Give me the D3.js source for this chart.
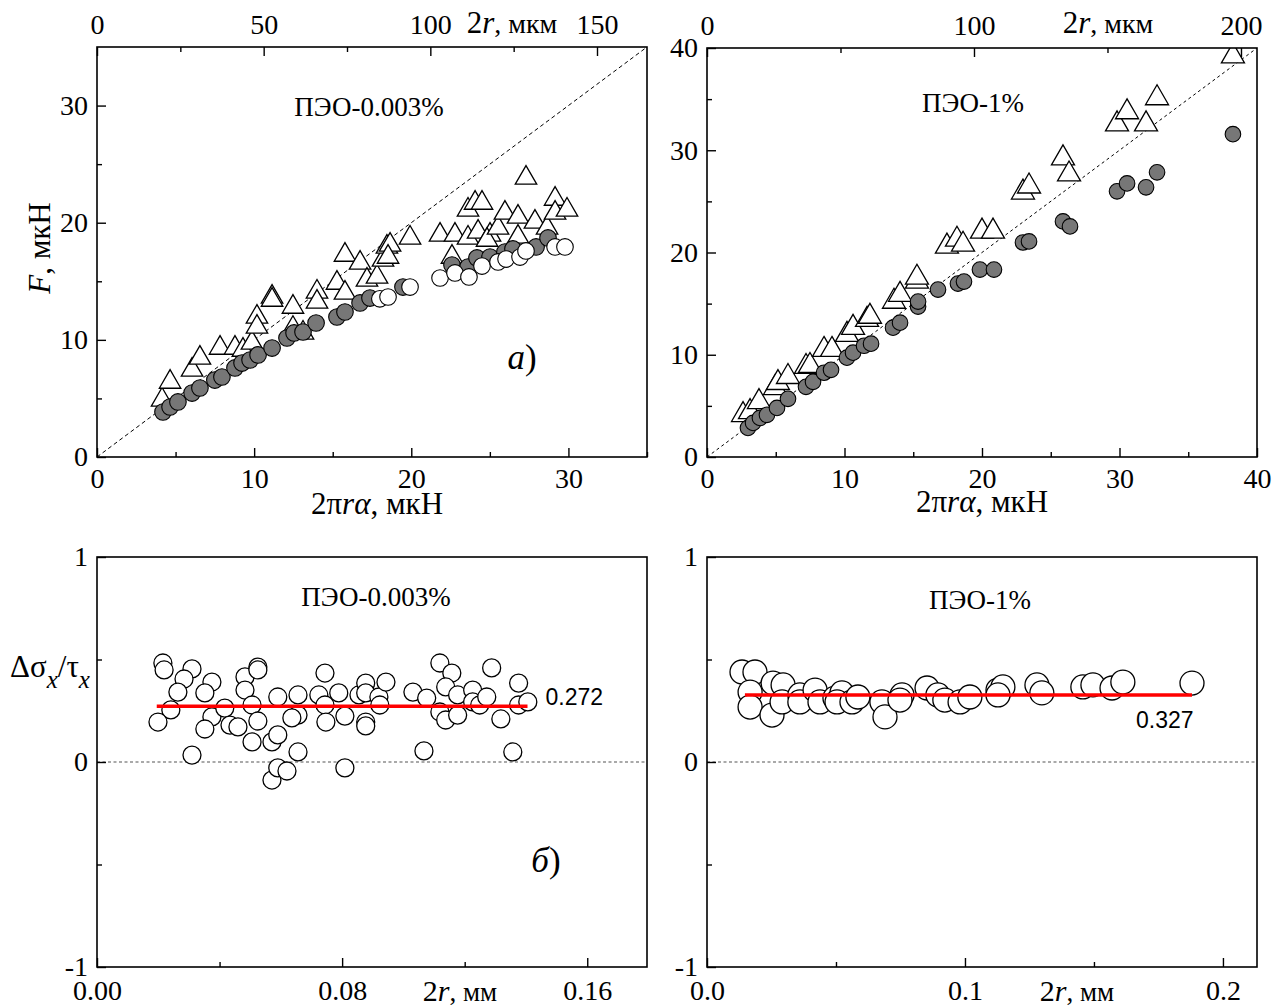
<!DOCTYPE html>
<html><head><meta charset="utf-8">
<script src="https://cdn.jsdelivr.net/npm/d3@7"></script>
<style>
body{margin:0;background:#fff}
svg text{font-family:"Liberation Serif","Times New Roman",serif;fill:#000}
</style>
</head><body>
<svg id="c" width="1279" height="1005"></svg>
<script>
// ---------- DATA ----------
// Panel a) left: ПЭО-0.003%, x = 2πrα (мкН), y = F (мкН)
const tlTriangles = [
[4.14,4.87],[4.65,6.4],[6.05,7.43],[6.55,8.45],[7.83,9.3],[8.78,9.3],[9.29,9.13],[9.86,9.73],
[10.18,11.95],[10.18,11.1],[11.14,13.66],[11.14,13.4],[12.47,12.8],[12.47,11.0],[13.11,10.59],
[14.0,14.09],[14.0,13.23],[15.27,14.85],[15.78,17.24],[15.78,14.0],[16.74,16.56],[17.18,15.11],
[17.82,15.37],[18.2,16.82],[18.45,17.93],[18.65,18.1],[18.52,17.07],[19.92,18.7],[21.83,18.95],
[22.78,18.95],[22.59,17.07],[23.61,18.7],[23.61,21.09],[24.06,21.68],[24.5,21.68],[24.25,19.21],
[25.01,18.95],[24.82,18.52],[25.52,19.55],[25.96,20.83],[26.79,20.49],[26.79,18.78],[27.3,23.82],
[27.87,20.06],[28.64,19.55],[29.15,22.02],[29.15,20.83],[29.91,21.09]
];
const tlGrayCircles = [
[4.2,3.84],[4.65,4.27],[5.15,4.7],[6.05,5.46],[6.55,5.89],[7.5,6.57],[7.95,6.83],[8.78,7.6],
[9.23,8.02],[9.74,8.28],[10.25,8.71],[11.14,9.3],[12.09,10.16],[12.54,10.59],[13.11,10.67],
[13.94,11.44],[15.27,11.95],[15.78,12.38],[16.74,13.15],[17.37,13.57],[19.47,14.51],[22.59,16.39],
[23.61,16.22],[24.18,16.99],[25.01,17.07],[25.96,17.5],[26.47,17.76],[27.94,17.93],[28.7,18.7]
];
const tlOpenCircles = [
[18.0,13.5],[18.52,13.66],[19.92,14.51],[21.83,15.28],[22.78,15.71],[23.67,15.37],[24.5,16.3],
[25.52,16.65],[26.03,16.9],[26.92,17.07],[27.3,17.59],[29.15,17.93],[29.78,17.93]
];
// Panel a) right: ПЭО-1%
const trTriangles = [
[2.62,4.12],[3.13,4.41],[3.78,5.39],[4.95,6.76],[5.16,7.25],[5.89,7.84],[7.2,8.82],[7.49,8.92],
[8.51,10.49],[9.09,10.49],[10.18,11.96],[10.62,12.65],[11.64,13.43],[11.85,13.73],[13.6,15.2],
[14.04,15.88],[15.27,17.16],[15.27,17.55],[17.45,20.59],[18.18,21.27],[18.62,20.78],[20.0,22.06],
[20.8,22.06],[22.98,25.88],[23.42,26.47],[25.89,29.22],[26.33,27.65],[29.82,32.55],[30.55,33.73],
[31.93,32.55],[32.73,35.1],[38.25,39.2]
];
const trGrayCircles = [
[2.98,2.84],[3.35,3.33],[3.85,3.82],[4.36,4.12],[5.09,4.8],[5.89,5.69],[7.2,6.86],[7.71,7.35],
[8.51,8.24],[9.02,8.53],[10.18,9.71],[10.62,10.2],[11.42,10.88],[11.93,11.08],[13.53,12.65],
[14.04,13.14],[15.35,14.71],[15.35,15.2],[16.8,16.37],[18.25,16.96],[18.69,17.16],[19.85,18.33],
[20.87,18.33],[22.98,20.98],[23.42,21.08],[25.89,23.04],[26.4,22.55],[29.82,25.98],[30.55,26.76],
[31.93,26.37],[32.73,27.84],[38.25,31.57]
];
// Panel б) left: x = 2r (мм), y = Δσx/τx
const blCircles = [
[0.0215,0.483],[0.0219,0.449],[0.031,0.454],[0.0284,0.405],[0.0264,0.341],[0.0241,0.254],[0.0199,0.195],
[0.031,0.034],[0.0375,0.39],[0.0352,0.337],[0.0375,0.22],[0.0352,0.161],[0.0417,0.263],[0.0434,0.18],
[0.046,0.171],[0.0483,0.415],[0.0483,0.351],[0.0525,0.463],[0.0525,0.449],[0.0506,0.278],[0.0525,0.2],
[0.0506,0.098],[0.0571,0.098],[0.059,0.132],[0.059,0.317],[0.0571,-0.088],[0.059,-0.029],[0.062,-0.044],
[0.0656,0.327],[0.0656,0.229],[0.0636,0.215],[0.0656,0.049],[0.0744,0.434],[0.0724,0.327],[0.0744,0.278],
[0.0747,0.195],[0.0789,0.337],[0.0809,0.224],[0.0809,-0.029],[0.0855,0.327],[0.0877,0.385],[0.0877,0.337],
[0.0877,0.195],[0.0877,0.176],[0.092,0.317],[0.0943,0.39],[0.0923,0.278],[0.1031,0.341],[0.1076,0.312],
[0.1119,0.483],[0.1158,0.434],[0.1138,0.366],[0.1119,0.244],[0.1138,0.205],[0.1177,0.229],[0.1177,0.327],
[0.1226,0.351],[0.1226,0.293],[0.1249,0.278],[0.1272,0.317],[0.1288,0.459],[0.1318,0.21],[0.1376,0.385],
[0.1376,0.278],[0.1406,0.293],[0.1067,0.054],[0.1357,0.049]
];
const blMean = {value:0.272, from:0.0195, to:0.1405};
// Panel б) right
const brCircles = [
[0.01357,0.439],[0.0186,0.439],[0.0167,0.341],[0.0167,0.268],[0.0252,0.229],[0.0256,0.385],[0.0295,0.376],
[0.0291,0.293],[0.036,0.327],[0.036,0.293],[0.0419,0.351],[0.0438,0.293],[0.0496,0.312],[0.0523,0.337],
[0.0504,0.293],[0.0562,0.293],[0.0585,0.317],[0.0678,0.293],[0.069,0.22],[0.0756,0.327],[0.0748,0.302],
[0.0853,0.361],[0.0895,0.327],[0.0922,0.302],[0.0981,0.293],[0.1019,0.317],[0.1128,0.351],[0.1147,0.366],
[0.1128,0.327],[0.1279,0.376],[0.1298,0.337],[0.1457,0.366],[0.1496,0.376],[0.157,0.361],[0.1612,0.39],
[0.188,0.385]
];
const brMean = {value:0.327, from:0.0147, to:0.188};

// Tick values
const tlXTicks=[0,10,20,30], tlXMinor=[5,15,25,35], tlYTicks=[0,10,20,30], tlYMinor=[5,15,25];
const tlTopTicks=[0,50,100,150], tlTopMinor=[25,75,125];
const trXTicks=[0,10,20,30,40], trXMinor=[5,15,25,35], trYTicks=[0,10,20,30,40], trYMinor=[5,15,25,35];
const trTopTicks=[0,100,200], trTopMinor=[50,150];
const bYTicks=[-1,0,1], bYMinor=[-0.5,0.5];
const blXTicks=[0,0.08,0.16], blXMinor=[0.04,0.12];
const brXTicks=[0,0.1,0.2], brXMinor=[0.05,0.15];

// ---------- DRAW ----------
const svg = d3.select('#c');
const FS = 28;
const hyphenFmt = f => (d => f(d).replace('\u2212','-'));

function styleAxis(sel){
  sel.select('.domain').remove();
  sel.attr('font-family','Liberation Serif, Times New Roman, serif').attr('font-size',FS);
  sel.selectAll('line').attr('stroke','#000').attr('stroke-width',1.4);
  sel.selectAll('text').attr('fill','#000');
}

function panel(c){
  const x = d3.scaleLinear().domain(c.xd).range([c.l,c.r]);
  const y = d3.scaleLinear().domain(c.yd).range([c.b,c.t]);
  const g = svg.append('g');
  g.append('clipPath').attr('id','clip'+c.name).append('rect')
    .attr('x',c.l).attr('y',c.t).attr('width',c.r-c.l).attr('height',c.b-c.t);
  const plot = g.append('g').attr('clip-path',`url(#clip${c.name})`);
  g.append('g').attr('transform',`translate(0,${c.b})`)
    .call(d3.axisBottom(x).tickValues(c.xT).tickFormat(c.xF).tickSize(-9).tickPadding(c.xPad)).call(styleAxis);
  g.append('g').attr('transform',`translate(0,${c.b})`)
    .call(d3.axisBottom(x).tickValues(c.xM).tickFormat('').tickSize(-5)).call(styleAxis);
  g.append('g').attr('transform',`translate(${c.l},0)`)
    .call(d3.axisLeft(y).tickValues(c.yT).tickFormat(c.yF).tickSize(-9).tickPadding(9)).call(styleAxis);
  g.append('g').attr('transform',`translate(${c.l},0)`)
    .call(d3.axisLeft(y).tickValues(c.yM).tickFormat('').tickSize(-5)).call(styleAxis);
  if(c.top){
    const xt = d3.scaleLinear().domain(c.top.d).range([c.l,c.r]);
    g.append('g').attr('transform',`translate(0,${c.t})`)
      .call(d3.axisTop(xt).tickValues(c.top.T).tickFormat(d3.format('d')).tickSize(-9).tickPadding(13)).call(styleAxis);
    g.append('g').attr('transform',`translate(0,${c.t})`)
      .call(d3.axisTop(xt).tickValues(c.top.M).tickFormat('').tickSize(-5)).call(styleAxis);
  }
  g.append('rect').attr('x',c.l).attr('y',c.t).attr('width',c.r-c.l).attr('height',c.b-c.t)
    .attr('fill','none').attr('stroke','#000').attr('stroke-width',1.6);
  return {x,y,plot,g};
}

const tri = (size)=>d3.symbol().type(d3.symbolTriangle).size(size);

// ---- top-left ----
{
  const p = panel({name:'tl',l:97,r:647,t:47,b:457,xd:[0,35],yd:[0,35],
    xT:tlXTicks,xM:tlXMinor,yT:tlYTicks,yM:tlYMinor,xF:d3.format('d'),yF:d3.format('d'),xPad:11,
    top:{d:[0,165],T:tlTopTicks,M:tlTopMinor}});
  p.plot.append('line').attr('x1',p.x(0)).attr('y1',p.y(0)).attr('x2',p.x(35)).attr('y2',p.y(35))
    .attr('stroke','#000').attr('stroke-width',1).attr('stroke-dasharray','4,3');
  p.plot.selectAll('.t').data(tlTriangles).join('path')
    .attr('d',tri(200)()).attr('transform',d=>`translate(${p.x(d[0])},${p.y(d[1])})`)
    .attr('fill','#fff').attr('stroke','#000').attr('stroke-width',1.3);
  p.plot.selectAll('.g').data(tlGrayCircles).join('circle')
    .attr('cx',d=>p.x(d[0])).attr('cy',d=>p.y(d[1])).attr('r',8.3)
    .attr('fill','#777').attr('stroke','#000').attr('stroke-width',1.1);
  p.plot.selectAll('.o').data(tlOpenCircles).join('circle')
    .attr('cx',d=>p.x(d[0])).attr('cy',d=>p.y(d[1])).attr('r',8.3)
    .attr('fill','#fff').attr('stroke','#000').attr('stroke-width',1.1);
}
// ---- top-right ----
{
  const p = panel({name:'tr',l:707,r:1257,t:48,b:457,xd:[0,40],yd:[0,40],
    xT:trXTicks,xM:trXMinor,yT:trYTicks,yM:trYMinor,xF:d3.format('d'),yF:d3.format('d'),xPad:11,
    top:{d:[0,206],T:trTopTicks,M:trTopMinor}});
  p.plot.append('line').attr('x1',p.x(0)).attr('y1',p.y(0)).attr('x2',p.x(40)).attr('y2',p.y(40))
    .attr('stroke','#000').attr('stroke-width',1).attr('stroke-dasharray','3,3');
  p.plot.selectAll('.t').data(trTriangles).join('path')
    .attr('d',tri(230)()).attr('transform',d=>`translate(${p.x(d[0])},${p.y(d[1])})`)
    .attr('fill','#fff').attr('stroke','#000').attr('stroke-width',1.3);
  p.plot.selectAll('.g').data(trGrayCircles).join('circle')
    .attr('cx',d=>p.x(d[0])).attr('cy',d=>p.y(d[1])).attr('r',7.8)
    .attr('fill','#777').attr('stroke','#000').attr('stroke-width',1.1);
}
// ---- bottom-left ----
{
  const p = panel({name:'bl',l:97,r:647,t:557,b:967,xd:[0,0.1795],yd:[-1,1],
    xT:blXTicks,xM:blXMinor,yT:bYTicks,yM:bYMinor,xF:d3.format('.2f'),yF:hyphenFmt(d3.format('d')),xPad:13});
  p.plot.append('line').attr('x1',p.x(0)).attr('x2',p.x(0.1795)).attr('y1',p.y(0)).attr('y2',p.y(0))
    .attr('stroke','#555').attr('stroke-width',1.2).attr('stroke-dasharray','3,2.5');
  p.plot.selectAll('.o').data(blCircles).join('circle')
    .attr('cx',d=>p.x(d[0])).attr('cy',d=>p.y(d[1])).attr('r',9)
    .attr('fill','#fff').attr('stroke','#000').attr('stroke-width',1.3);
  p.plot.append('line').attr('x1',p.x(blMean.from)).attr('x2',p.x(blMean.to))
    .attr('y1',p.y(blMean.value)).attr('y2',p.y(blMean.value)).attr('stroke','#f00').attr('stroke-width',3.5);
  p.g.append('text').attr('x',p.x(blMean.to)+18).attr('y',p.y(blMean.value)-1)
    .style('font-family','Liberation Sans, Arial, sans-serif').attr('font-size',23).text(blMean.value.toFixed(3));
}
// ---- bottom-right ----
{
  const p = panel({name:'br',l:707,r:1257,t:557,b:967,xd:[0,0.2132],yd:[-1,1],
    xT:brXTicks,xM:brXMinor,yT:bYTicks,yM:bYMinor,xF:d3.format('.1f'),yF:hyphenFmt(d3.format('d')),xPad:13});
  p.plot.append('line').attr('x1',p.x(0)).attr('x2',p.x(0.2132)).attr('y1',p.y(0)).attr('y2',p.y(0))
    .attr('stroke','#555').attr('stroke-width',1.2).attr('stroke-dasharray','3,2.5');
  p.plot.selectAll('.o').data(brCircles).join('circle')
    .attr('cx',d=>p.x(d[0])).attr('cy',d=>p.y(d[1])).attr('r',12)
    .attr('fill','#fff').attr('stroke','#000').attr('stroke-width',1.3);
  p.plot.append('line').attr('x1',p.x(brMean.from)).attr('x2',p.x(brMean.to))
    .attr('y1',p.y(brMean.value)).attr('y2',p.y(brMean.value)).attr('stroke','#f00').attr('stroke-width',3.5);
  p.g.append('text').attr('x',p.x(brMean.to)-56).attr('y',p.y(brMean.value)+33)
    .style('font-family','Liberation Sans, Arial, sans-serif').attr('font-size',23).text(brMean.value.toFixed(3));
}

// ---------- LABELS ----------
function rich(x,y,parts,opts={}){
  const t = svg.append('text').attr('x',x).attr('y',y).attr('font-size',opts.size||FS)
    .attr('text-anchor',opts.anchor||'start');
  if(opts.rotate) t.attr('transform',`rotate(${opts.rotate},${x},${y})`);
  parts.forEach(p=>{
    const s = t.append('tspan').text(p.t);
    if(p.i) s.attr('font-style','italic');
    if(p.dy) s.attr('dy',p.dy);
    if(p.size) s.attr('font-size',p.size);
  });
  return t;
}
// top axis titles
rich(512,33,[{t:'2',size:31},{t:'r',i:1,size:31},{t:', мкм'}],{anchor:'middle',size:28});
rich(1108,33,[{t:'2',size:31},{t:'r',i:1,size:31},{t:', мкм'}],{anchor:'middle',size:28});
// bottom titles top panels
rich(377,514,[{t:'2π'},{t:'r',i:1},{t:'α',i:1},{t:', мкН'}],{anchor:'middle',size:31});
rich(982,512,[{t:'2π'},{t:'r',i:1},{t:'α',i:1},{t:', мкН'}],{anchor:'middle',size:31});
// F, мкН
rich(50,248,[{t:'F',i:1},{t:', мкН'}],{anchor:'middle',size:31,rotate:-90});
// Δσx/τx
rich(10,677,[{t:'Δσ'},{t:'x',i:1,dy:11,size:25},{t:'/τ',dy:-11},{t:'x',i:1,dy:11,size:25}],{size:31});
// bottom axis titles
rich(460,1001,[{t:'2',size:30},{t:'r',i:1,size:30},{t:', мм'}],{anchor:'middle',size:27});
rich(1077,1001,[{t:'2',size:30},{t:'r',i:1,size:30},{t:', мм'}],{anchor:'middle',size:27});
// panel titles
rich(369,116,[{t:'ПЭО-0.003%'}],{anchor:'middle',size:27});
rich(973,112,[{t:'ПЭО-1%'}],{anchor:'middle',size:27});
rich(376,606,[{t:'ПЭО-0.003%'}],{anchor:'middle',size:27});
rich(980,609,[{t:'ПЭО-1%'}],{anchor:'middle',size:27});
// panel markers
rich(522,369,[{t:'а',i:1},{t:')'}],{anchor:'middle',size:35});
rich(546,872,[{t:'б',i:1},{t:')'}],{anchor:'middle',size:35});
</script>
</body></html>
